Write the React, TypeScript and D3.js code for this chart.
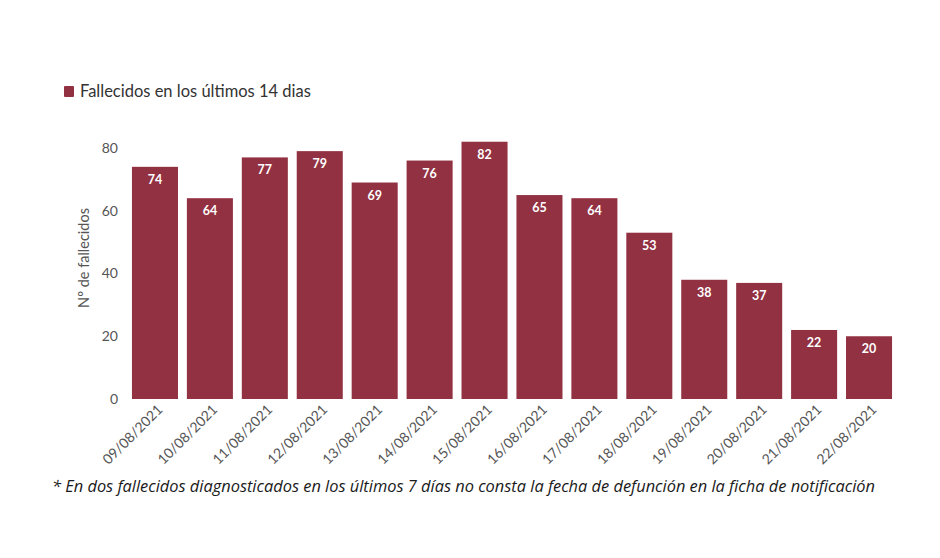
import React from "react";
import * as d3 from "d3";

const categories = ["09/08/2021","10/08/2021","11/08/2021","12/08/2021","13/08/2021","14/08/2021","15/08/2021","16/08/2021","17/08/2021","18/08/2021","19/08/2021","20/08/2021","21/08/2021","22/08/2021"];
const values = [74, 64, 77, 79, 69, 76, 82, 65, 64, 53, 38, 37, 22, 20];
const yTicks = [0, 20, 40, 60, 80];
const legendLabel = "Fallecidos en los últimos 14 dias";
const yTitle = "Nº de fallecidos";
const footnote = "* En dos fallecidos diagnosticados en los últimos 7 días no consta la fecha de defunción en la ficha de notificación";

const W = 940, H = 558;
const BAR = "#923142";
const FONT = "Lato, 'Open Sans', sans-serif";

export default function App() {
  const x = d3.scaleBand<string>().domain(categories).range([127.5, 896.5]).paddingInner(0.162).paddingOuter(0.081);
  const y = d3.scaleLinear().domain([0, 80]).range([399, 148]);
  return (
    <div style={{ position: "absolute", left: 0, top: 0 }}>
      <svg width={W} height={H} style={{ display: "block", background: "#fff" }}>
        <rect x={64} y={86} width={10} height={11} fill={BAR} rx={1} />
        <text x={80} y={97} fontFamily={FONT} fontSize={16.5} fill="#333">{legendLabel}</text>
        {yTicks.map(t => (
          <text key={t} x={118} y={y(t)} dy="0.35em" textAnchor="end" fontFamily={FONT} fontSize={14} fill="#555">{t}</text>
        ))}
        <text transform={`translate(89,258) rotate(-90)`} textAnchor="middle" fontFamily={FONT} fontSize={14.5} fill="#555">{yTitle}</text>
        {categories.map((c, i) => (
          <g key={c}>
            <rect x={x(c)} y={y(values[i])} width={x.bandwidth()} height={y(0) - y(values[i])} fill={BAR} />
            <text x={(x(c) as number) + x.bandwidth() / 2} y={y(values[i]) + 17} textAnchor="middle" fontFamily={FONT} fontWeight="bold" fontSize={12.5} fill="#fff">{values[i]}</text>
            <text transform={`translate(${(x(c) as number) + x.bandwidth() / 2 + 5},${407}) rotate(-45)`} textAnchor="end" dy="0.35em" fontFamily={FONT} fontSize={14} fill="#555">{c}</text>
          </g>
        ))}
        <text x={52} y={492} fontFamily="'Open Sans', sans-serif" fontStyle="italic" fontSize={16.4} fill="#1a1a1a">{footnote}</text>
      </svg>
    </div>
  );
}
